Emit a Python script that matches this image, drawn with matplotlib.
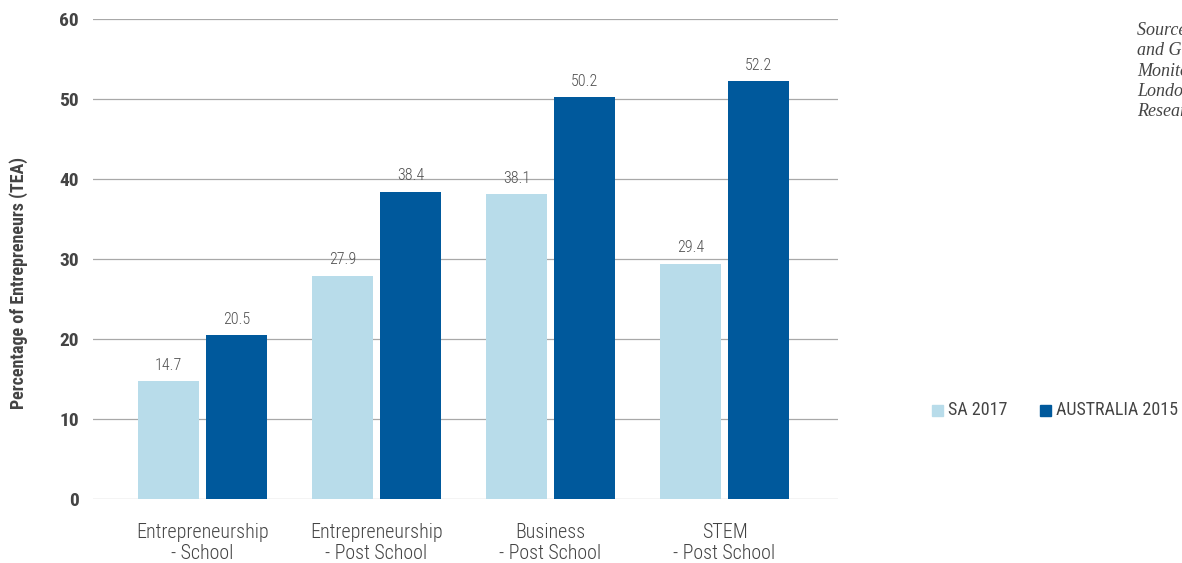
import matplotlib
matplotlib.use("Agg")
import matplotlib.pyplot as plt
from matplotlib import font_manager
from matplotlib.patches import Rectangle
import numpy as np

categories = ["Entrepreneurship\n- School", "Entrepreneurship\n- Post School",
              "Business\n- Post School", "STEM\n- Post School"]
sa_2017 = [14.7, 27.9, 38.1, 29.4]
australia_2015 = [20.5, 38.4, 50.2, 52.2]
series_names = ["SA 2017", "AUSTRALIA 2015"]
y_ticks = [0, 10, 20, 30, 40, 50, 60]
source_lines = ["Source: Adapted from Bosma, N",
                "and Global Entrepreneurship",
                "Monitor 2017, GERA,",
                "London Business School,",
                "Research Ltd."]

LIGHT = "#b8dcea"
DARK = "#00599c"
TEXT = "#444444"
VALUE = "#505050"
GRID = "#a8a8a8"

available = {f.name for f in font_manager.fontManager.ttflist}
narrow = next((f for f in ["Roboto Condensed", "Liberation Sans Narrow",
                           "DejaVu Sans Condensed", "Roboto"] if f in available),
              "DejaVu Sans")
plt.rcParams["font.family"] = [narrow, "DejaVu Sans"]

W, H = 1182, 563
fig = plt.figure(figsize=(W / 100, H / 100), dpi=100)
ax = fig.add_axes([93 / W, 1 - 499 / H, (838 - 93) / W, 480 / H])

x = np.arange(len(categories))
width = 0.35
offset = 0.195
b1 = ax.bar(x - offset, sa_2017, width, color=LIGHT, zorder=2)
b2 = ax.bar(x + offset, australia_2015, width, color=DARK, zorder=2)

for bars, vals in ((b1, sa_2017), (b2, australia_2015)):
    for rect, v in zip(bars, vals):
        ax.annotate(f"{v:.1f}", (rect.get_x() + rect.get_width() / 2, v),
                    xytext=(0, 6), textcoords="offset points",
                    ha="center", va="bottom", fontsize=11.5, color=VALUE,
                    fontweight="light")

ax.set_xlim(-0.629, 3.652)
ax.set_ylim(0, 60)
ax.set_yticks(y_ticks)
ax.set_yticklabels([str(t) for t in y_ticks], fontsize=14, fontweight="bold", color=TEXT)
ax.set_xticks(x)
ax.set_xticklabels(categories, fontsize=14.4, color=TEXT, linespacing=1.1,
                   fontweight="light")
ax.tick_params(axis="both", length=0)
ax.tick_params(axis="y", pad=10)
ax.tick_params(axis="x", pad=17.5)
ax.grid(axis="y", color=GRID, linewidth=0.9, zorder=0)
for s in ax.spines.values():
    s.set_visible(False)

fig.text(19 / W, 1 - 283 / H, "Percentage of Entrepreneurs (TEA)", rotation=90,
         ha="center", va="center", fontsize=13, fontweight="bold", color=TEXT)

# Legend drawn to the right of the plot
for px, name, col in ((932, series_names[0], LIGHT), (1040, series_names[1], DARK)):
    fig.patches.append(Rectangle((px / W, 1 - 416 / H), 11 / W, 11 / H,
                                 transform=fig.transFigure, color=col))
    fig.text((px + 16) / W, 1 - 410 / H, name, ha="left", va="center",
             fontsize=13, color=TEXT)

for i, line in enumerate(source_lines):
    fig.text(1137 / W, 1 - (30 + i * 20.3) / H, line, ha="left", va="center",
             fontsize=13, style="italic", color=TEXT,
             family=["Liberation Serif", "DejaVu Serif"])

fig.savefig("out.png", dpi=100)
